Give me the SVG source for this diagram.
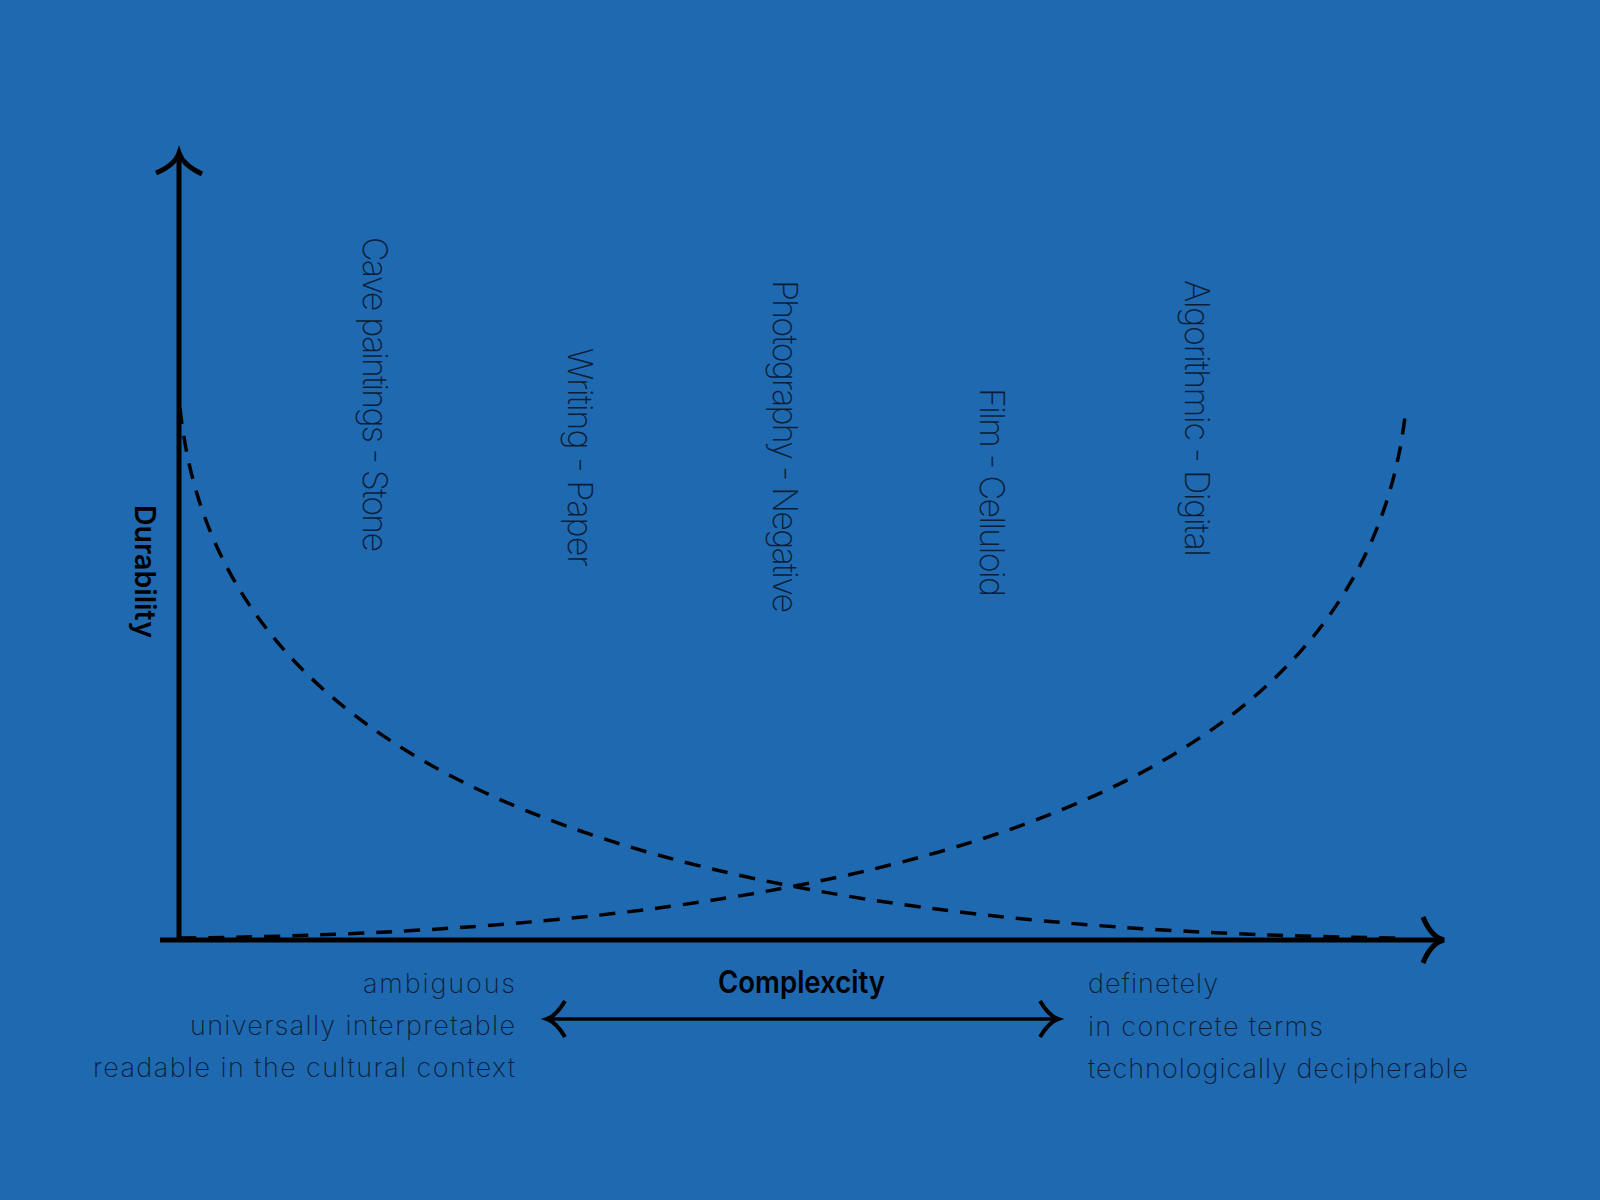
<svg xmlns="http://www.w3.org/2000/svg" width="1600" height="1200" viewBox="0 0 1600 1200">
<style>
.bg{fill:#1f69b0}
.axis{fill:none;stroke:#000;stroke-width:5;stroke-linecap:butt}
.head{fill:none;stroke:#000;stroke-width:5;stroke-linecap:butt;stroke-linejoin:miter}
.curve{fill:none;stroke:#000;stroke-width:3.5;stroke-dasharray:16 12}
.range{fill:none;stroke:#000;stroke-width:3.5}
.rhead{fill:none;stroke:#000;stroke-width:4}
.era{font-family:Inter,"Open Sans",Lato,sans-serif;font-weight:200;font-size:34px;fill:#0b1e38}
.note{font-family:Inter,"Open Sans",Lato,sans-serif;font-weight:200;font-size:27px;fill:#0b1e38}
.title{font-family:Inter,"Open Sans",Lato,sans-serif;font-weight:600;fill:#000}
</style>
<rect class="bg" x="0" y="0" width="1600" height="1200"/>
<g id="connectors">
<path class="curve" d="M180,408 C215,740 560,930 1406,938"/>
<path class="curve" d="M180,938 C1026,930 1371,740 1406,408"/>
</g>
<g id="y-axis">
<line class="axis" x1="179" y1="942" x2="179" y2="156"/>
<path class="head" d="M156,173 Q175,165 179,153 Q183,165 202,174"/>
</g>
<g id="x-axis">
<line class="axis" x1="160" y1="940" x2="1440" y2="940"/>
<path class="head" d="M1423,917 Q1431,937 1444,940 Q1431,943 1423,963"/>
</g>
<g id="durability-label">
<text class="title" font-size="29" transform="rotate(90 135 505)" x="135" y="505" textLength="133" lengthAdjust="spacingAndGlyphs">Durability</text>
</g>
<g id="era-cave">
<text class="era" transform="rotate(90 363 237)" x="363" y="237" textLength="315">Cave paintings - Stone</text>
</g>
<g id="era-writing">
<text class="era" transform="rotate(90 568 348)" x="568" y="348" textLength="219">Writing - Paper</text>
</g>
<g id="era-photography">
<text class="era" transform="rotate(90 773 280)" x="773" y="280" textLength="333">Photography - Negative</text>
</g>
<g id="era-film">
<text class="era" transform="rotate(90 980 388)" x="980" y="388" textLength="209">Film - Celluloid</text>
</g>
<g id="era-algorithmic">
<text class="era" transform="rotate(90 1185 280)" x="1185" y="280" textLength="277">Algorithmic - Digital</text>
</g>
<g id="complexity-range">
<line class="range" x1="549" y1="1019" x2="1056" y2="1019"/>
<path class="rhead" d="M565,1001 Q556,1016 547,1019 Q556,1022 565,1037"/>
<path class="rhead" d="M1040,1001 Q1049,1016 1058,1019 Q1049,1022 1040,1037"/>
<text class="title" font-size="31" x="718" y="993" textLength="167" lengthAdjust="spacingAndGlyphs">Complexcity</text>
</g>
<g id="left-notes">
<text class="note" x="515" y="993" text-anchor="end" textLength="152">ambiguous</text>
<text class="note" x="515" y="1035" text-anchor="end" textLength="325">universally interpretable</text>
<text class="note" x="515" y="1077" text-anchor="end" textLength="422">readable in the cultural context</text>
</g>
<g id="right-notes">
<text class="note" x="1088" y="993" textLength="130">definetely</text>
<text class="note" x="1088" y="1036" textLength="235">in concrete terms</text>
<text class="note" x="1088" y="1078" textLength="380">technologically decipherable</text>
</g>
</svg>
